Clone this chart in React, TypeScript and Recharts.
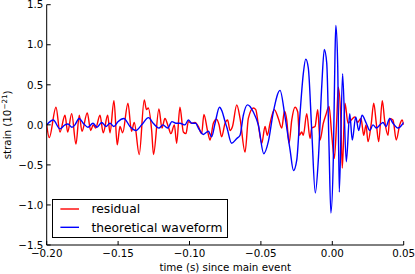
import { LineChart, Line, XAxis, YAxis, Legend, Label } from "recharts";

// residual (red) - times in s since main event, strain in 1e-21
const residualTime = [
  -0.2, -0.1982, -0.1935, -0.1907, -0.1872, -0.1853, -0.1825, -0.1795, -0.1772, -0.1753,
  -0.1716, -0.1692, -0.1674, -0.1657, -0.1627, -0.1604, -0.1573, -0.1557, -0.1529, -0.1506,
  -0.1487, -0.1468, -0.1431, -0.1406, -0.1387, -0.1352, -0.1317, -0.1301, -0.1289, -0.1265,
  -0.1252, -0.1214, -0.1193, -0.1172, -0.1149, -0.113, -0.1106, -0.109, -0.1067, -0.1043,
  -0.1025, -0.1008, -0.0985, -0.0962, -0.0938, -0.0915, -0.0899, -0.0873, -0.0856, -0.0833,
  -0.081, -0.0793, -0.0775, -0.0751, -0.0733, -0.0716, -0.0699, -0.0669, -0.0646, -0.0611,
  -0.0588, -0.0553, -0.0536, -0.0518, -0.0494, -0.0471, -0.0455, -0.0436, -0.0406, -0.0378,
  -0.0354, -0.0335, -0.0319, -0.0303, -0.0284, -0.0261, -0.0242, -0.0231, -0.0214, -0.0203,
  -0.0179, -0.0156, -0.0144, -0.0121, -0.0102, -0.0086, -0.0063, -0.0046, -0.0023, -0.0004,
  0.0014, 0.0031, 0.0042, 0.0059, 0.007, 0.0089, 0.011, 0.0133, 0.0157, 0.0177,
  0.0201, 0.022, 0.0236, 0.025, 0.0273, 0.029, 0.0308, 0.0325, 0.035, 0.0367,
  0.039, 0.0402, 0.0425, 0.0448, 0.0472, 0.049, 0.05,
];
const residualStrain = [
  0.0, -0.16, 0.22, -0.09, 0.12, -0.09, 0.14, -0.24, 0.12, -0.08,
  0.15, -0.07, 0.0, -0.04, 0.12, -0.1, 0.12, -0.1, 0.3, -0.25,
  -0.02, -0.1, 0.27, -0.08, 0.03, -0.37, 0.31, 0.19, 0.21, -0.07,
  -0.37, 0.2, -0.04, 0.08, -0.02, -0.11, 0.0, -0.23, 0.22, -0.09,
  -0.11, 0.04, 0.02, 0.03, -0.02, -0.11, 0.13, -0.08, -0.19, 0.02,
  0.07, 0.0, -0.15, 0.02, 0.06, -0.07, -0.02, 0.25, 0.08, -0.34,
  0.08, 0.21, 0.19, 0.0, -0.23, -0.02, -0.13, 0.02, 0.19, 0.08,
  -0.04, 0.17, 0.06, -0.23, 0.06, 0.22, 0.16, -0.13, -0.09, -0.13,
  0.14, -0.17, -0.04, -0.02, 0.19, -0.19, 0.02, 0.12, 0.23, -0.12,
  -0.42, 0.06, 0.47, 0.1, -0.54, 0.27, 0.02, 0.06, 0.1, 0.03,
  0.08, -0.13, 0.0, -0.21, 0.02, 0.27, 0.02, -0.21, 0.3, 0.05,
  -0.13, 0.08, 0.06, -0.19, 0.0, 0.06, 0.0,
];

// theoretical waveform (blue)
const waveformTime = [
  -0.2, -0.1954, -0.1907, -0.1872, -0.1851, -0.1823, -0.1802, -0.1774, -0.1739, -0.1711,
  -0.1676, -0.1648, -0.1615, -0.1585, -0.1557, -0.1529, -0.1501, -0.1459, -0.1417, -0.1375,
  -0.1335, -0.1287, -0.1254, -0.1214, -0.1186, -0.1153, -0.1123, -0.1095, -0.1067, -0.1032,
  -0.1008, -0.0983, -0.0957, -0.0938, -0.0903, -0.0868, -0.0845, -0.0821, -0.079, -0.0772,
  -0.0751, -0.0737, -0.0705, -0.0669, -0.0646, -0.0623, -0.0594, -0.0576, -0.0553, -0.0518,
  -0.048, -0.0448, -0.0413, -0.0366, -0.0331, -0.0296, -0.0272, -0.0249, -0.0226, -0.0203,
  -0.0186, -0.0168, -0.0144, -0.0119, -0.0098, -0.0074, -0.0056, -0.0039, -0.0023, -0.001,
  0.0007, 0.0019, 0.0025, 0.0038, 0.0049, 0.0072, 0.0098, 0.0122, 0.014, 0.0164,
  0.0185, 0.0208, 0.0238, 0.0262, 0.0285, 0.0308, 0.0334, 0.0355, 0.0376, 0.0402,
  0.0425, 0.046, 0.05,
];
const waveformStrain = [
  0.0, 0.06, -0.05, 0.0, 0.01, -0.03, 0.0, 0.08, 0.01, -0.03,
  0.02, -0.03, 0.03, -0.02, 0.02, -0.02, 0.04, 0.08, -0.02, -0.07,
  0.0, 0.09, 0.02, -0.04, 0.0, -0.04, 0.04, 0.02, 0.02, 0.0,
  0.06, 0.02, 0.02, -0.04, -0.12, -0.08, -0.15, 0.02, 0.22, 0.17,
  0.04, -0.04, -0.23, -0.17, -0.13, 0.12, 0.25, 0.23, 0.16, 0.0,
  -0.36, -0.21, 0.16, 0.43, 0.1, -0.31, -0.57, -0.44, 0.14, 0.64,
  0.82, 0.71, -0.07, -0.85, -0.44, 0.48, 0.94, 0.77, -0.27, -1.1,
  -0.44, 0.89, 1.24, 0.73, -0.84, 0.64, -0.46, 0.14, -0.19, 0.1,
  -0.07, 0.12, 0.02, -0.07, 0.0, -0.04, 0.0, 0.03, -0.02, 0.08,
  0.02, -0.04, 0.03,
];

const timeTicks = [-0.2, -0.15, -0.1, -0.05, 0, 0.05];
const strainTicks = [-1.5, -1, -0.5, 0, 0.5, 1, 1.5];

const residual = residualTime.map((t, i) => ({ t, v: residualStrain[i] }));
const waveform = waveformTime.map((t, i) => ({ t, v: waveformStrain[i] }));

const FONT = "DejaVu Sans";
const TICK = 4;

const fmt = (v: number, d: number) =>
  (v < -1e-9 ? "\u2212" : "") + Math.abs(v).toFixed(d);

// matplotlib style: ticks point inward
const BottomTick = ({ x, y, payload }: any) => (
  <g>
    <line x1={x} x2={x} y1={y} y2={y - TICK} stroke="#000" />
    <text x={x} y={y + 12.3} textAnchor="middle" fontSize={10.3} fontFamily={FONT} fill="#000">
      {fmt(payload.value, 2)}
    </text>
  </g>
);
const TopTick = ({ x, y }: any) => (
  <line x1={x} x2={x} y1={y} y2={y + TICK} stroke="#000" />
);
const LeftTick = ({ x, y, payload }: any) => (
  <g>
    <line x1={x} x2={x + TICK} y1={y} y2={y} stroke="#000" />
    <text x={x - 3.4} y={y + 3.7} textAnchor="end" fontSize={10.3} fontFamily={FONT} fill="#000">
      {fmt(payload.value, 1)}
    </text>
  </g>
);
const RightTick = ({ x, y }: any) => (
  <line x1={x} x2={x - TICK} y1={y} y2={y} stroke="#000" />
);

const LegendBox = ({ payload }: any) => (
  <div style={{ border: "1px solid #000", background: "#fff", width: 174, height: 37 }}>
    <svg width={174} height={37}>
      {(payload || []).map((p: any, i: number) => (
        <g key={p.value}>
          <line x1={7.4} x2={26} y1={9 + i * 18.3} y2={9 + i * 18.3} stroke={p.color} strokeWidth={1.4} />
          <text x={38.4} y={13.3 + i * 18.3} fontSize={12.3} fontFamily={FONT} fill="#000">
            {p.value}
          </text>
        </g>
      ))}
    </svg>
  </div>
);

export default function App() {
  return (
    <div style={{ position: "absolute", left: 0, top: 0 }}>
      <LineChart width={415} height={274} margin={{ top: 4.7, right: 11.3, bottom: 0, left: 0 }}>
        <XAxis
          dataKey="t"
          type="number"
          domain={[-0.2, 0.05]}
          ticks={timeTicks}
          allowDataOverflow
          height={29}
          stroke="#000"
          tickLine={false}
          tickSize={0}
          tickMargin={0}
          tick={BottomTick}
          interval={0}
        >
          <Label
            content={({ viewBox }: any) => (
              <text
                x={viewBox.x + viewBox.width / 2}
                y={viewBox.y + 25.5}
                textAnchor="middle"
                fontSize={10.3}
                fontFamily={FONT}
                fill="#000"
              >
                time (s) since main event
              </text>
            )}
          />
        </XAxis>
        <XAxis
          xAxisId="top"
          orientation="top"
          dataKey="t"
          type="number"
          domain={[-0.2, 0.05]}
          ticks={timeTicks}
          allowDataOverflow
          height={0}
          stroke="#000"
          tickLine={false}
          tickSize={0}
          tickMargin={0}
          tick={TopTick}
          interval={0}
        />
        <YAxis
          type="number"
          domain={[-1.5, 1.5]}
          ticks={strainTicks}
          allowDataOverflow
          width={46.7}
          stroke="#000"
          tickLine={false}
          tickSize={0}
          tickMargin={0}
          tick={LeftTick}
          interval={0}
        >
          <Label
            content={({ viewBox }: any) => {
              const cx = viewBox.x + 11.5;
              const cy = viewBox.y + viewBox.height / 2;
              return (
                <text
                  x={cx}
                  y={cy}
                  transform={`rotate(-90 ${cx} ${cy})`}
                  textAnchor="middle"
                  fontSize={10.3}
                  fontFamily={FONT}
                  fill="#000"
                >
                  strain (10
                  <tspan dy={-4} fontSize={7.2}>{"\u221221"}</tspan>
                  <tspan dy={4}>)</tspan>
                </text>
              );
            }}
          />
        </YAxis>
        <YAxis
          yAxisId="right"
          orientation="right"
          type="number"
          domain={[-1.5, 1.5]}
          ticks={strainTicks}
          allowDataOverflow
          width={0}
          stroke="#000"
          tickLine={false}
          tickSize={0}
          tickMargin={0}
          tick={RightTick}
          interval={0}
        />
        <Line
          data={residual}
          dataKey="v"
          name="residual"
          type="monotone"
          stroke="#ff0000"
          strokeWidth={1.4}
          dot={false}
          isAnimationActive={false}
        />
        <Line
          data={waveform}
          dataKey="v"
          name="theoretical waveform"
          type="monotone"
          stroke="#0000ff"
          strokeWidth={1.4}
          dot={false}
          isAnimationActive={false}
        />
        <Legend
          layout="vertical"
          align="center"
          verticalAlign="middle"
          wrapperStyle={{ left: 52.3, top: 199, width: 176, height: 39 }}
          content={LegendBox}
        />
      </LineChart>
    </div>
  );
}
